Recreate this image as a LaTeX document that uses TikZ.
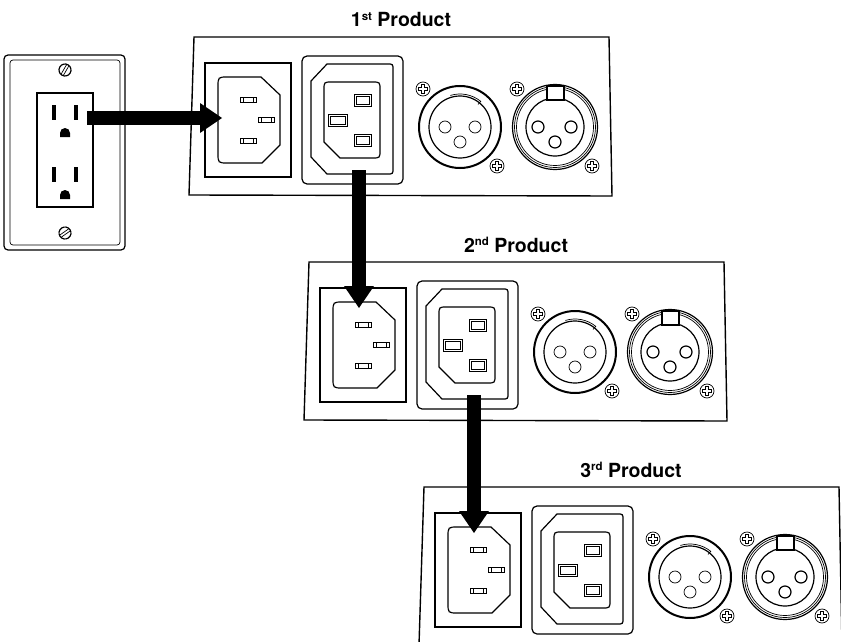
\documentclass[tikz,border=0pt]{standalone}
\usepackage{fontspec}
\setmainfont{TeX Gyre Heros}
\usetikzlibrary{arrows.meta}

\newcommand\ordinal[1]{\raisebox{6.5pt}{\fontsize{11.5}{12}\selectfont #1}}

\tikzset{
  rim/.style={line width=1.2pt},
  thinrim/.style={line width=0.7pt},
  contact/.style={line width=0.8pt,fill=white},
  feed/.style={line width=14pt,-{Triangle[width=30pt,length=22pt,line width=0pt]}},
  title/.style={font=\bfseries\fontsize{19.5}{23}\selectfont,anchor=base,inner sep=0pt},
  screw/.pic={
    \draw[thinrim,fill=white] (0,0) circle[radius=7];
    \draw[thinrim] (-1.6,-4.8) -- (1.6,-4.8) -- (1.6,-1.6) -- (4.8,-1.6) -- (4.8,1.6) -- (1.6,1.6)
      -- (1.6,4.8) -- (-1.6,4.8) -- (-1.6,1.6) -- (-4.8,1.6) -- (-4.8,-1.6) -- (-1.6,-1.6) -- cycle;
  },
  wallscrew/.pic={
    \draw[rim] (0,0) circle[radius=6];
    \draw[thinrim] (-5.2,-1.3) -- (5.2,-1.3) (-5.2,1.3) -- (5.2,1.3);
  },
  panel/.pic={
    \draw[line width=1.4pt] (194,37) -- (609,37) -- (612,196) -- (189,195) -- cycle;
    % inlet
    \draw[rim] (205,63) rectangle (291,177);
    \draw[rim] (261,77) -- (280,95) -- (280,145) -- (262,163) -- (228,163) .. controls (218,163) .. (218,153)
      -- (218,87) .. controls (218,77) .. (228,77) -- cycle;
    \foreach \x/\y in {248/99.5, 266.5/120, 248/140.5}
      \draw[contact] (\x-8,\y-2.5) rectangle (\x+8,\y+2.5) (\x-5,\y-2.5) -- (\x-5,\y+2.5) (\x+5,\y-2.5) -- (\x+5,\y+2.5);
    \coordinate (-side) at (222,118);
    \coordinate (-top) at (249,83);
    % outlet
    \draw[rim,rounded corners=5] (302,56) rectangle (403,184);
    \draw[rim] (327,64) -- (387,64) .. controls (393,64) .. (393,70) -- (393,168) .. controls (393,174) .. (387,174)
      -- (327,174) -- (311,157) -- (311,81) -- cycle;
    \draw[rim] (350,82) -- (372,82) .. controls (380,82) .. (380,90) -- (380,150) .. controls (380,158) .. (372,158)
      -- (340,158) -- (324,142) -- (324,90) .. controls (324,82) .. (332,82) -- cycle;
    \foreach \x/\y/\w in {362.5/100/8.5, 337.5/120/9.5, 362.5/140.5/8.5}
      \draw[contact] (\x-\w,\y-6) rectangle (\x+\w,\y+6) (\x-\w+2,\y-4) rectangle (\x+\w-2,\y+4);
    \coordinate (-cord) at (359,170);
    % xlr female
    \draw[line width=2pt] (460,127) circle[radius=41];
    \draw[rim] (460,127) circle[radius=31];
    \foreach \x/\y in {445/127, 475/127, 460/142}
      \draw[thinrim] (\x,\y) circle[radius=6];
    \draw[thinrim] (460,127) ++(-107:33) arc[start angle=-107,end angle=-51,radius=33] -- (478,104.5);
    \pic at (423,89) {screw};
    \pic at (497,166) {screw};
    % xlr male
    \draw[rim] (555,127) circle[radius=42.5];
    \draw[thinrim] (555,127) circle[radius=40.5] (555,127) circle[radius=38.5];
    \draw[rim] (555,127) circle[radius=29];
    \draw[rim,fill=white] (547,86) rectangle (564,100);
    \foreach \x/\y in {538/127, 571/127, 555/142}
      \draw[rim] (\x,\y) circle[radius=6];
    \pic at (517,89) {screw};
    \pic at (592,166) {screw};
  }
}

\begin{document}
\begin{tikzpicture}[x=1pt,y=-1pt]
  \useasboundingbox (0,0) rectangle (841,642);
  % wall outlet
  \draw[rim,rounded corners=4] (4,55) rectangle (125,250);
  \draw[thinrim,rounded corners=3] (10,60) rectangle (120,245);
  \draw[rim] (37,93) rectangle (93,207);
  \foreach \y in {0,62} {
    \fill (52,105+\y) rectangle (56,120+\y);
    \fill (74,105+\y) rectangle (78,120+\y);
    \fill (60,137+\y) -- (60,133+\y) arc[start angle=180,end angle=360,radius=5] -- (70,137+\y) -- cycle;
  }
  \pic[rotate=60] at (65,70) {wallscrew};
  \pic[rotate=35] at (65,233) {wallscrew};
  \coordinate (plug) at (87,118);

  % products
  \foreach \n/\s/\dx/\dy in {1/st/0/0, 2/nd/115/225, 3/rd/230/450} {
    \pic (p\n) at (\dx,\dy) {panel};
    \node[title] (label\n) at (401+\dx,27+\dy) {\n\ordinal{\s} Product};
  }

  \draw[feed] (plug) -- (p1-side);
  \draw[feed] (p1-cord) -- (p1-cord |- p2-top);
  \draw[feed] (p2-cord) -- (p2-cord |- p3-top);
\end{tikzpicture}
\end{document}
